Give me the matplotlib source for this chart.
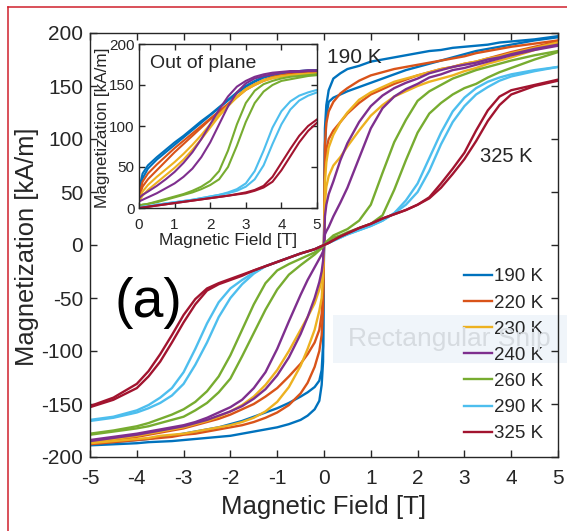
import numpy as np
import matplotlib.pyplot as plt
from matplotlib.lines import Line2D
from matplotlib.patches import Rectangle

plt.rcParams['font.family'] = ['Liberation Sans Narrow', 'Liberation Sans', 'DejaVu Sans']
plt.rcParams['axes.unicode_minus'] = False

W, H = 567, 531
ink = '#262626'

temps = ['190 K', '220 K', '230 K', '240 K', '260 K', '290 K', '325 K']
colors = ['#0072BD', '#D95319', '#EDB120', '#7E2F8E', '#77AC30', '#4DBEEE', '#A2142F']

# field points (T) used for every main-panel branch
field = [0, 0.02, 0.05, 0.1, 0.2, 0.35, 0.5, 0.75, 1.0, 1.25, 1.5, 1.75,
         2.0, 2.25, 2.5, 2.75, 3.0, 3.25, 3.5, 3.75, 4.0, 4.5, 5.0]

# positive field side, upper and lower branch (kA/m)
pos_upper = [
    [0, 110, 132, 146, 157, 162, 166, 169, 173, 175, 177, 179, 181, 183, 184, 186, 187, 188, 189, 191, 192, 194, 197],
    [0, 95, 115, 126, 135, 143, 148, 155, 160, 163, 166, 168, 170, 172, 174, 176, 178, 181, 183, 185, 187, 190, 193],
    [0, 60, 78, 92, 104, 116, 125, 137, 144, 149, 154, 157, 160, 163, 166, 168, 171, 173, 176, 178, 181, 186, 191],
    [0, 27, 38, 48, 60, 80, 96, 116, 131, 141, 148, 153, 157, 162, 165, 168, 170, 172, 175, 177, 180, 185, 189],
    [0, 1, 3, 5, 9, 12, 15, 23, 38, 68, 97, 118, 136, 145, 151, 157, 161, 165, 168, 171, 174, 179, 183],
    [0, 0.5, 1, 2, 4, 7, 10, 14, 18, 23, 30, 42, 58, 82, 106, 126, 139, 148, 154, 158, 161, 165, 168],
    [0, 0.4, 1, 2, 4.5, 8, 11, 16, 20, 25, 29, 33, 38, 45, 58, 72, 87, 108, 127, 140, 146, 151, 156],
]
pos_lower = [
    [0, 90, 122, 135, 139, 142, 145, 149, 153, 157, 161, 165, 168, 171, 174, 177, 180, 183, 185, 187, 189, 193, 196],
    [0, 70, 90, 100, 108, 116, 124, 134, 142, 147, 152, 156, 160, 163, 166, 168, 171, 173, 176, 179, 182, 187, 192],
    [0, 40, 55, 65, 75, 83, 93, 108, 122, 132, 140, 145, 150, 154, 157, 160, 164, 167, 171, 174, 177, 184, 190],
    [0, 10, 13, 17, 27, 40, 54, 82, 110, 129, 140, 147, 152, 158, 161, 165, 167, 170, 173, 176, 179, 184, 188],
    [0, 1, 2, 4, 7, 9, 12, 16, 20, 28, 52, 80, 106, 124, 134, 142, 148, 152, 158, 163, 167, 175, 182],
    [0, 0.5, 1, 2, 4, 7, 10, 14, 18, 23, 30, 38, 50, 70, 95, 116, 131, 142, 149, 155, 159, 164, 168],
    [0, 0.4, 1, 2, 4.5, 8, 11, 16, 20, 25, 29, 33, 38, 44, 54, 67, 81, 98, 117, 132, 142, 150, 155],
]
# negative field side (at -field), outer and inner branch
neg_outer = [
    [0, -110, -132, -147, -155, -161, -165, -169, -172, -174, -176, -178, -180, -181, -182, -183, -184, -185, -185.5, -186, -187, -188, -189],
    [0, -60, -85, -100, -115, -130, -140, -151, -158, -163, -167, -170, -172, -174, -176, -178, -179, -181, -182, -183, -184, -186, -188],
    [0, -30, -50, -62, -80, -98, -114, -134, -148, -157, -163, -167, -170, -172, -174, -176, -178, -179, -180, -182, -183, -185, -187],
    [0, -15, -25, -35, -50, -68, -84, -106, -123, -136, -145, -152, -157, -161, -165, -168, -171, -173, -175, -177, -179, -182, -185],
    [0, -1, -3, -5, -9, -14, -19, -28, -42, -61, -83, -105, -126, -139, -149, -156, -162, -165, -168, -171, -173, -176, -179],
    [0, -0.4, -1, -2, -4, -6, -8, -12, -16, -20, -27, -37, -50, -68, -92, -113, -131, -142, -149, -154, -158, -163, -166],
    [0, -0.4, -1, -2, -4, -6, -8, -12, -16, -20, -24, -29, -33, -37, -43, -56, -73, -92, -110, -124, -135, -146, -153],
]
neg_inner = [
    [0, -95, -118, -128, -134, -139, -143, -149, -154, -158, -162, -166, -169, -172, -174, -176, -178, -180, -181, -183, -184, -186, -188],
    [0, -45, -65, -80, -92, -103, -112, -124, -135, -143, -150, -155, -160, -164, -167, -170, -173, -175, -177, -179, -181, -184, -187],
    [0, -20, -32, -42, -55, -68, -80, -100, -118, -132, -143, -151, -157, -162, -166, -169, -172, -174, -176, -178, -180, -183, -186],
    [0, -6, -9, -13, -21, -33, -47, -72, -98, -120, -135, -146, -153, -158, -163, -167, -170, -172, -174, -176, -178, -181, -184],
    [0, -1, -2, -4, -7, -10, -13, -18, -24, -36, -56, -80, -104, -124, -138, -148, -155, -160, -164, -168, -171, -175, -178],
    [0, -0.4, -1, -2, -4, -6, -8, -12, -16, -20, -26, -33, -41, -54, -74, -98, -120, -135, -144, -151, -156, -162, -165],
    [0, -0.4, -1, -2, -4, -6, -8, -12, -16, -20, -24, -28, -32, -36, -41, -51, -66, -85, -103, -119, -131, -144, -152],
]

# inset: out of plane, positive field only
inset_field = [0, 0.1, 0.25, 0.5, 0.75, 1, 1.25, 1.5, 1.75, 2, 2.25, 2.5, 2.75, 3,
               3.25, 3.5, 3.75, 4, 4.25, 4.5, 4.75, 5]
inset_a = [
    [22, 42, 52, 62, 71, 80, 88, 97, 106, 114, 123, 132, 141, 149, 155, 160, 163, 165, 166, 167, 168, 168],
    [15, 32, 42, 53, 63, 73, 82, 91, 100, 109, 118, 127, 136, 145, 151, 156, 160, 162, 164, 165, 166, 166],
    [10, 20, 28, 38, 47, 56, 66, 77, 89, 102, 114, 125, 136, 145, 151, 156, 159, 161, 162, 163, 164, 164],
    [12, 16, 20, 27, 35, 44, 55, 68, 84, 102, 120, 136, 148, 155, 160, 163, 165, 166, 167, 167, 168, 168],
    [3, 4, 5, 8, 11, 14, 17, 21, 26, 33, 45, 70, 102, 128, 143, 151, 155, 158, 160, 161, 162, 163],
    [1, 1.5, 2, 4, 5.5, 7, 8.5, 10, 12, 14, 16, 19, 23, 30, 45, 70, 98, 118, 130, 137, 141, 144],
    [0, 0.5, 1.5, 3, 4.5, 6, 7.5, 9, 10.5, 12, 13.5, 15, 17, 19, 22, 27, 38, 55, 72, 88, 100, 108],
]
inset_b = [
    [15, 36, 48, 59, 68, 77, 86, 95, 104, 113, 122, 131, 140, 148, 154, 159, 162, 164, 166, 167, 167, 168],
    [12, 26, 35, 46, 57, 68, 78, 88, 98, 108, 117, 126, 135, 144, 150, 155, 159, 161, 163, 164, 165, 166],
    [8, 15, 22, 31, 40, 49, 59, 71, 84, 98, 112, 124, 135, 144, 150, 155, 158, 160, 162, 163, 163, 164],
    [8, 10, 13, 18, 24, 30, 38, 48, 62, 80, 102, 124, 141, 152, 158, 161, 163, 165, 166, 166, 167, 167],
    [3, 4, 5, 7, 10, 13, 16, 19, 23, 28, 35, 50, 76, 105, 128, 142, 150, 155, 157, 159, 161, 162],
    [1, 1.5, 2, 4, 5.5, 7, 8.5, 10, 12, 14, 16, 18, 21, 26, 35, 52, 78, 102, 120, 131, 137, 141],
    [0, 0.5, 1.5, 3, 4.5, 6, 7.5, 9, 10.5, 12, 13.5, 15, 16.5, 18, 21, 25, 32, 46, 63, 80, 94, 104],
]

fig = plt.figure(figsize=(W / 100, H / 100), dpi=100)
fig.patch.set_facecolor('white')

# faint screenshot band and watermark seen in the picture
fig.add_artist(Rectangle((333 / W, 1 - 363 / H), 1, 48 / H, transform=fig.transFigure,
                         facecolor='#f0f5fa', edgecolor='none', zorder=0))
fig.text(348 / W, 1 - 339 / H, 'Rectangular Snip', fontsize=19, color='#d6dbe0',
         va='center', ha='left', zorder=0.5)

ax = fig.add_axes([90 / W, 1 - 457 / H, 468 / W, 424 / H])
ax.patch.set_alpha(0)

f = np.array(field)
xs = np.concatenate([-f[::-1], f[1:]])
for i in range(len(temps)):
    y1 = np.concatenate([np.array(neg_outer[i])[::-1], np.array(pos_lower[i])[1:]])
    y2 = np.concatenate([np.array(neg_inner[i])[::-1], np.array(pos_upper[i])[1:]])
    ax.plot(xs, y1, color=colors[i], lw=1.7, label=temps[i], solid_joinstyle='round')
    ax.plot(xs, y2, color=colors[i], lw=1.7, solid_joinstyle='round')

ax.set_xlim(-5, 5)
ax.set_ylim(-200, 200)
ax.set_xticks(np.arange(-5, 6, 1))
ax.set_yticks(np.arange(-200, 201, 50))
ax.tick_params(direction='in', length=5, width=1.0, top=True, right=True,
               labelsize=15, colors=ink)
ax.tick_params(axis='x', pad=9)
ax.tick_params(axis='y', pad=5)
for s in ax.spines.values():
    s.set_color(ink)
    s.set_linewidth(1.0)

ax.set_xlabel('Magnetic Field [T]', fontsize=18.5, color=ink)
ax.xaxis.set_label_coords(0.5, -0.09)
ax.set_ylabel('Magnetization [kA/m]', fontsize=18.4, color=ink,
              family=['Liberation Sans', 'DejaVu Sans'])
ax.yaxis.set_label_coords(-0.11, 0.495)

ax.text(0.07, 186, '190 K', fontsize=15, color=ink, ha='left', va='top')
ax.text(3.33, 92, '325 K', fontsize=14.5, color=ink, ha='left', va='top')
ax.text(-3.76, -55, '(a)', fontsize=40, color='black', ha='center', va='center')

leg = ax.legend(loc='upper left', bbox_to_anchor=(0.8, 0.445), frameon=False,
                fontsize=13.5, handlelength=1.45, handletextpad=0.15,
                labelspacing=0.48, borderpad=0, borderaxespad=0)
for t in leg.get_texts():
    t.set_color(ink)

# inset
ins = fig.add_axes([139 / W, 1 - 208 / H, 178 / W, 164 / H])
fi = np.array(inset_field)
for i in range(len(temps)):
    ins.plot(fi, inset_a[i], color=colors[i], lw=1.5)
    ins.plot(fi, inset_b[i], color=colors[i], lw=1.5)
ins.set_xlim(0, 5)
ins.set_ylim(0, 200)
ins.set_xticks(np.arange(0, 6, 1))
ins.set_yticks(np.arange(0, 201, 50))
ins.tick_params(direction='in', length=4, width=1.0, top=True, right=True,
                labelsize=11, colors=ink)
ins.tick_params(axis='x', pad=7)
ins.tick_params(axis='y', pad=3)
for s in ins.spines.values():
    s.set_color(ink)
    s.set_linewidth(1.0)
ins.set_xlabel('Magnetic Field [T]', fontsize=12.5, color=ink)
ins.xaxis.set_label_coords(0.5, -0.15)
ins.set_ylabel('Magnetization [kA/m]', fontsize=12.3, color=ink,
               family=['Liberation Sans', 'DejaVu Sans'])
ins.yaxis.set_label_coords(-0.165, 0.49)
ins.text(0.06, 0.935, 'Out of plane', transform=ins.transAxes, fontsize=14,
         color=ink, ha='left', va='top')

# red frame lines on the left and top edges
fig.add_artist(Line2D([8 / W, 8 / W], [0, 1 - 7 / H], transform=fig.transFigure,
                      color='#d0202c', lw=1.1))
fig.add_artist(Line2D([8 / W, 1], [1 - 7 / H, 1 - 7 / H], transform=fig.transFigure,
                      color='#d0202c', lw=1.1))

fig.savefig('out.png', dpi=100, facecolor='white')
